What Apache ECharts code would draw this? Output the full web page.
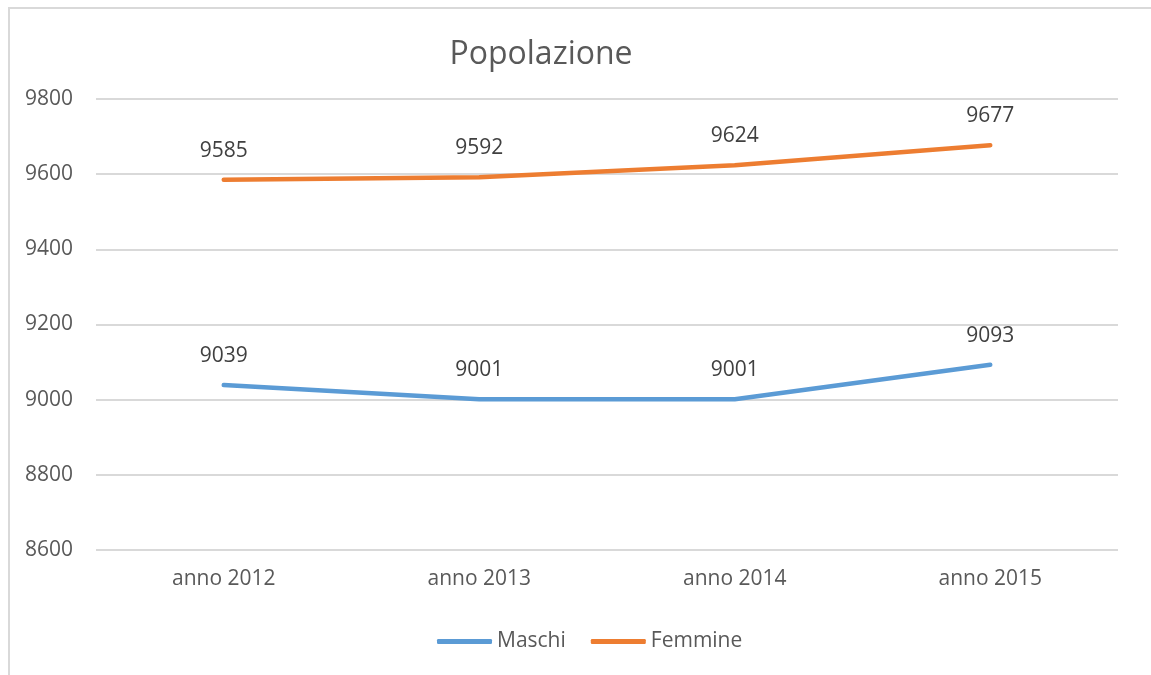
<!DOCTYPE html>
<html><head><meta charset="utf-8">
<script src="https://cdn.jsdelivr.net/npm/echarts@6/dist/echarts.min.js"></script>
<style>html,body{margin:0;padding:0;background:#fff}#c{width:1151px;height:675px}</style>
</head><body><div id="c"></div>
<script>
const categories = ['anno 2012', 'anno 2013', 'anno 2014', 'anno 2015'];
const maschi = [9039, 9001, 9001, 9093];
const femmine = [9585, 9592, 9624, 9677];
const yMin = 8600, yMax = 9800, yStep = 200;
const titleText = 'Popolazione';

const font = "'Open Sans', sans-serif";
const chart = echarts.init(document.getElementById('c'), null, {renderer: 'canvas'});
const lbl = {show: true, position: 'top', distance: 18, color: '#404040', fontSize: 21, fontFamily: font};
chart.setOption({
  animation: false,
  backgroundColor: '#fff',
  graphic: [{type: 'rect', shape: {x: 9, y: 8, width: 1160, height: 700}, style: {fill: 'none', stroke: '#d9d9d9', lineWidth: 2}, silent: true}],
  title: {text: titleText, left: 536, top: 34, textAlign: 'center', textStyle: {fontFamily: font, fontSize: 32, fontWeight: 'normal', color: '#595959'}},
  legend: {
    bottom: 18, left: 432, itemGap: 25, itemWidth: 55, itemHeight: 5, icon: 'roundRect',
    textStyle: {fontFamily: font, fontSize: 21, color: '#595959', padding: [0, 0, 0, 0]},
    data: ['Maschi', 'Femmine']
  },
  grid: {left: 96, right: 33, top: 99, bottom: 125, containLabel: false},
  xAxis: {
    type: 'category', data: categories, boundaryGap: true,
    axisLine: {show: false}, axisTick: {show: false},
    axisLabel: {fontFamily: font, fontSize: 21, color: '#595959', margin: 19}
  },
  yAxis: {
    type: 'value', min: yMin, max: yMax, interval: yStep,
    axisLine: {show: false}, axisTick: {show: false},
    axisLabel: {fontFamily: font, fontSize: 21, color: '#595959', margin: 23, formatter: v => String(v)},
    splitLine: {lineStyle: {color: '#d9d9d9', width: 2}}
  },
  series: [
    {name: 'Maschi', type: 'line', data: maschi, color: '#5B9BD5', symbol: 'circle', symbolSize: 1, showSymbol: true, lineStyle: {width: 4.5, cap: 'round', join: 'round'}, label: lbl},
    {name: 'Femmine', type: 'line', data: femmine, color: '#ED7D31', symbol: 'circle', symbolSize: 1, showSymbol: true, lineStyle: {width: 4.5, cap: 'round', join: 'round'}, label: lbl}
  ]
});
</script></body></html>
